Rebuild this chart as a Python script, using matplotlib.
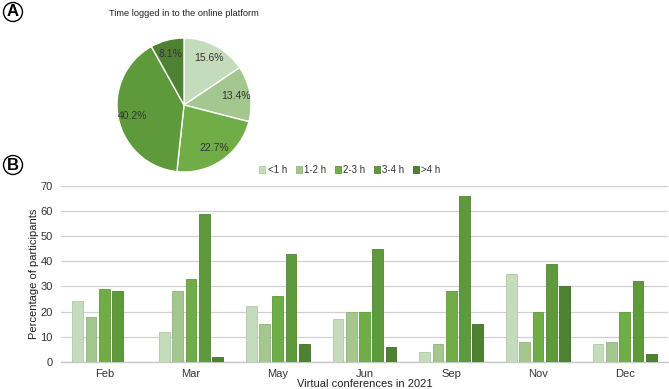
import matplotlib
matplotlib.use("Agg")
import matplotlib.pyplot as plt
import numpy as np

plt.rcParams['font.family'] = ['Liberation Sans', 'DejaVu Sans']

# Data
pie_labels = ["<1 h", "1-2 h", "2-3 h", "3-4 h", ">4 h"]
pie_values = [15.6, 13.4, 22.7, 40.2, 8.1]

months = ["Feb", "Mar", "May", "Jun", "Sep", "Nov", "Dec"]
lt1 = [24, 12, 22, 17, 4, 35, 7]
h1_2 = [18, 28, 15, 20, 7, 8, 8]
h2_3 = [29, 33, 26, 20, 28, 20, 20]
h3_4 = [28, 59, 43, 45, 66, 39, 32]
gt4 = [0, 2, 7, 6, 15, 30, 3]
series = [lt1, h1_2, h2_3, h3_4, gt4]

colors = ["#c5dcbc", "#a3c78e", "#70ad47", "#5e9a3c", "#4e8232"]
edges = ["#b0c9a6", "#8fb47a", "#5f9a3b", "#4f8632", "#3f6d28"]

W, H = 669, 389
fig = plt.figure(figsize=(W / 100, H / 100), dpi=100)

# Pie
cx, cy, r = 184, 105, 67
pax = fig.add_axes([(cx - r) / W, (H - cy - r) / H, 2 * r / W, 2 * r / H])
wedges, texts, autotexts = pax.pie(
    pie_values, colors=colors, startangle=90, counterclock=False,
    autopct=lambda p: f"{p:.1f}%", pctdistance=0.79, radius=1,
    wedgeprops=dict(edgecolor="white", linewidth=1.0),
    textprops=dict(fontsize=7.5, color="#333333"))
pax.set_xlim(-1, 1)
pax.set_ylim(-1, 1)
pax.set_aspect("equal")
fig.text(cx / W, 1 - 13 / H, "Time logged in to the online platform",
         ha="center", va="center", fontsize=6.7, color="#222222")

# Bars
ax = fig.add_axes([61 / W, (H - 361.7) / H, 607 / W, (361.7 - 186) / H])
x = np.arange(len(months))
bw = 0.123
pitch = 0.153
for i, (s, c, e) in enumerate(zip(series, colors, edges)):
    ax.bar(x + (i - 2) * pitch, s, width=bw, color=c, edgecolor=e,
           linewidth=0.6, label=pie_labels[i], zorder=3)
ax.set_xlim(-0.5, len(months) - 0.5)
ax.set_ylim(0, 70)
ax.set_yticks(range(0, 71, 10))
ax.set_xticks(x)
ax.set_xticklabels(months)
ax.tick_params(axis="both", length=0, labelsize=8, colors="#333333")
ax.tick_params(axis="y", pad=6)
ax.tick_params(axis="x", pad=5)
ax.yaxis.grid(True, color="#d0d0d0", linewidth=0.9, zorder=0)
for sp in ["top", "right", "left"]:
    ax.spines[sp].set_visible(False)
ax.spines["bottom"].set_color("#c8c8c8")
ax.spines["bottom"].set_linewidth(1.0)
ax.set_ylabel("Percentage of participants", fontsize=8, color="#222222", labelpad=1)
ax.set_xlabel("Virtual conferences in 2021", fontsize=8, color="#222222", labelpad=0)

fig.legend(loc="center", bbox_to_anchor=(350 / W, 1 - 170 / H), ncol=5,
           frameon=False, fontsize=7, handlelength=0.6, handleheight=0.6,
           columnspacing=0.9, handletextpad=0.25, labelcolor="#333333")

# Panel letters
for lbl, yy in [("A", 12), ("B", 165)]:
    fig.text(13 / W, 1 - yy / H, lbl, ha="center", va="center", fontsize=12,
             fontweight="bold",
             bbox=dict(boxstyle="circle,pad=0.12", fc="white", ec="black", lw=1.0))

fig.savefig("out.png", dpi=100)
